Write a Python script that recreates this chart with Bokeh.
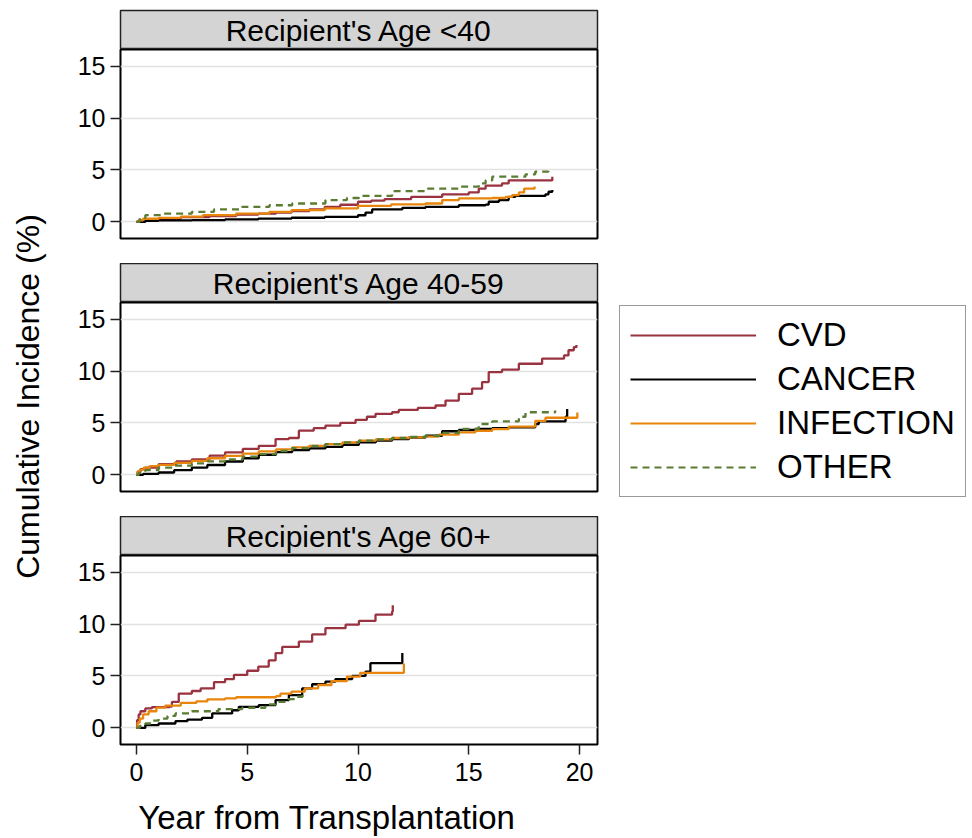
import math
from bokeh.plotting import figure
from bokeh.layouts import column, row
from bokeh.models import Range1d, Label, Legend, LegendItem, FixedTicker
from bokeh.embed import file_html
from bokeh.resources import INLINE

FONT = "Liberation Sans"

PANEL_TITLES = ["Recipient's Age <40", "Recipient's Age 40-59", "Recipient's Age 60+"]
CAUSES = ["CVD", "CANCER", "INFECTION", "OTHER"]
COLORS = ["#9A3340", "#000000", "#E8850C", "#5B7D33"]
DASHES = ["solid", "solid", "solid", "7 5"]
Y_TICKS = [0, 5, 10, 15]
X_TICKS = [0, 5, 10, 15, 20]
Y_TITLE = "Cumulative Incidence (%)"
X_TITLE = "Year from Transplantation"

# ---- Recipient's Age <40 ----
LT40_CVD_T = [0, 0.1, 0.3, 1.0, 2.0, 3.3, 4.5, 5.5, 6.3, 7.0, 7.8, 8.5, 9.2, 10.0, 10.6, 11.2, 12.4, 13.8, 15.0, 15.45, 15.76, 16.5, 16.8, 18.77]
LT40_CVD_Y = [0, 0.15, 0.25, 0.3, 0.45, 0.55, 0.7, 0.8, 0.9, 1.03, 1.2, 1.45, 1.65, 1.94, 2.05, 2.2, 2.4, 2.65, 2.84, 3.2, 3.5, 3.7, 4.0, 4.35]
LT40_CAN_T = [0, 0.4, 1.0, 2.5, 4.0, 5.5, 7.0, 8.5, 10.0, 10.34, 10.64, 12.0, 13.05, 14.55, 15.76, 15.9, 16.36, 16.8, 17.1, 18.46, 18.6, 18.77]
LT40_CAN_Y = [0, 0.1, 0.15, 0.16, 0.24, 0.32, 0.4, 0.48, 0.64, 0.9, 1.2, 1.35, 1.45, 1.6, 1.67, 1.94, 2.1, 2.4, 2.5, 2.65, 2.9, 3.06]
LT40_INF_T = [0, 0.1, 0.3, 1.0, 2.0, 3.0, 4.5, 6.0, 7.0, 8.5, 10.0, 11.5, 13.05, 13.8, 14.55, 16.06, 16.66, 16.96, 17.26, 17.5, 17.97]
LT40_INF_Y = [0, 0.15, 0.3, 0.39, 0.5, 0.65, 0.8, 0.97, 1.13, 1.3, 1.55, 1.68, 1.77, 2.1, 2.26, 2.3, 2.4, 2.58, 2.84, 3.2, 3.4]
LT40_OTH_T = [0, 0.15, 0.4, 1.2, 2.5, 3.5, 4.77, 6.0, 7.03, 8.53, 9.5, 10.04, 11.54, 13.05, 14.55, 15.45, 15.76, 16.06, 17.56, 18.0, 18.6]
LT40_OTH_Y = [0, 0.4, 0.65, 0.8, 0.97, 1.2, 1.45, 1.6, 1.77, 2.1, 2.3, 2.5, 2.97, 3.2, 3.4, 3.7, 4.0, 4.35, 4.58, 4.84, 4.9]

# ---- Recipient's Age 40-59 ----
A4059_CVD_T = [0, 0.05, 0.18, 0.4, 1.0, 1.8, 2.5, 3.3, 4.0, 4.8, 5.52, 6.28, 6.88, 7.33, 8.0, 8.53, 9.2, 9.89, 10.4, 10.79, 11.54, 11.84, 12.7, 13.5, 13.95, 14.55, 15.15, 15.6, 15.9, 16.5, 17.26, 18.31, 19.3, 19.5, 19.74, 19.86]
A4059_CVD_Y = [0, 0.3, 0.55, 0.7, 1.03, 1.3, 1.5, 1.85, 2.16, 2.5, 2.8, 3.45, 3.55, 4.26, 4.5, 4.74, 5.0, 5.3, 5.6, 5.87, 6.03, 6.26, 6.45, 6.68, 7.16, 7.8, 8.3, 8.94, 9.9, 10.13, 10.7, 11.2, 11.5, 12.0, 12.3, 12.5]
A4059_CAN_T = [0, 0.3, 1.0, 1.7, 2.5, 3.2, 4.0, 4.8, 5.52, 6.3, 7.03, 7.8, 8.53, 9.3, 10.04, 10.8, 11.54, 12.3, 13.05, 13.8, 14.55, 15.3, 16.06, 16.8, 18.0, 18.16, 19.37, 19.44]
A4059_CAN_Y = [0, 0.1, 0.23, 0.45, 0.7, 0.95, 1.29, 1.6, 1.94, 2.2, 2.39, 2.55, 2.7, 2.9, 3.13, 3.3, 3.45, 3.6, 3.77, 4.2, 4.32, 4.42, 4.5, 4.58, 4.9, 5.16, 5.6, 6.35]
A4059_INF_T = [0, 0.05, 0.15, 0.33, 0.6, 1.0, 1.7, 2.5, 3.2, 4.0, 4.8, 5.52, 6.3, 7.03, 7.8, 8.53, 9.3, 10.04, 10.8, 11.54, 12.3, 13.05, 13.65, 14.55, 15.3, 16.06, 16.8, 18.0, 18.46, 19.9]
A4059_INF_Y = [0, 0.3, 0.5, 0.7, 0.85, 0.97, 1.15, 1.35, 1.6, 1.84, 2.05, 2.26, 2.45, 2.65, 2.8, 2.97, 3.13, 3.29, 3.42, 3.55, 3.62, 3.68, 3.87, 4.1, 4.25, 4.4, 4.65, 5.2, 5.5, 6.0]
A4059_OTH_T = [0, 0.1, 0.4, 1.0, 1.7, 2.5, 3.2, 4.0, 4.8, 5.52, 6.3, 7.03, 7.8, 8.53, 9.3, 10.04, 10.8, 11.54, 12.3, 13.05, 13.8, 14.55, 15.45, 16.06, 17.26, 17.56, 18.9]
A4059_OTH_Y = [0, 0.2, 0.45, 0.7, 0.9, 1.1, 1.3, 1.5, 1.75, 2.0, 2.3, 2.58, 2.78, 2.97, 3.13, 3.29, 3.42, 3.55, 3.66, 3.77, 4.05, 4.42, 4.9, 5.16, 5.6, 6.03, 6.2]

# ---- Recipient's Age 60+ ----
A60_CVD_T = [0, 0.03, 0.1, 0.18, 0.4, 0.7, 1.5, 1.6, 1.91, 2.5, 2.9, 3.5, 4.0, 4.4, 5.0, 5.5, 5.97, 6.28, 6.58, 7.33, 7.93, 8.53, 9.44, 10.04, 10.79, 11.54, 11.57]
A60_CVD_Y = [0, 0.75, 1.3, 1.6, 1.87, 2.0, 2.05, 2.5, 3.3, 3.55, 3.8, 4.4, 4.7, 5.1, 5.5, 5.9, 6.5, 7.2, 7.8, 8.3, 9.0, 9.6, 9.94, 10.3, 10.9, 11.2, 11.8]
A60_CAN_T = [0, 0.4, 1.0, 1.76, 2.3, 2.96, 3.42, 4.32, 4.62, 5.52, 6.28, 6.88, 7.48, 7.93, 8.53, 8.98, 9.74, 10.34, 10.56, 12.0]
A60_CAN_Y = [0, 0.26, 0.42, 0.65, 0.8, 0.97, 1.39, 1.7, 2.03, 2.2, 2.68, 3.16, 3.8, 4.2, 4.45, 4.7, 5.0, 5.42, 6.23, 7.2]
A60_INF_T = [0, 0.05, 0.15, 0.3, 0.55, 0.9, 1.3, 2.0, 2.7, 3.2, 4.0, 4.5, 6.3, 6.5, 7.0, 7.6, 8.2, 8.8, 9.5, 10.1, 12.07]
A60_INF_Y = [0, 0.5, 0.9, 1.3, 1.6, 1.95, 2.15, 2.4, 2.55, 2.75, 2.85, 2.95, 3.05, 3.3, 3.5, 3.8, 4.13, 4.5, 4.94, 5.3, 6.2]
A60_OTH_T = [0, 0.15, 0.4, 0.7, 1.0, 1.4, 1.76, 2.5, 3.7, 4.77, 5.82, 6.28, 6.73, 7.18, 7.5, 7.55]
A60_OTH_Y = [0, 0.2, 0.42, 0.7, 0.9, 1.15, 1.39, 1.6, 1.8, 1.94, 2.26, 2.5, 2.77, 3.0, 3.2, 3.48]

PANEL_DATA = [
    [(LT40_CVD_T, LT40_CVD_Y), (LT40_CAN_T, LT40_CAN_Y), (LT40_INF_T, LT40_INF_Y), (LT40_OTH_T, LT40_OTH_Y)],
    [(A4059_CVD_T, A4059_CVD_Y), (A4059_CAN_T, A4059_CAN_Y), (A4059_INF_T, A4059_INF_Y), (A4059_OTH_T, A4059_OTH_Y)],
    [(A60_CVD_T, A60_CVD_Y), (A60_CAN_T, A60_CAN_Y), (A60_INF_T, A60_INF_Y), (A60_OTH_T, A60_OTH_Y)],
]

TOTAL_H = 838
YLAB_W = 50
FRAME_W = 477
FRAME_H = 189
HEAD_H = 39
LEFT = 70
RIGHT = 3
COL_W = LEFT + FRAME_W + RIGHT
FOOT_H = 44
LEG_W = 972 - YLAB_W - COL_W
LINE_W = 2.3


def blank(width, height):
    f = figure(width=width, height=height, x_range=Range1d(0, width), y_range=Range1d(0, height),
               x_axis_type=None, y_axis_type=None, toolbar_location=None, output_backend="svg",
               min_border=0)
    f.outline_line_color = None
    f.grid.visible = False
    f.border_fill_color = "white"
    f.background_fill_color = "white"
    return f


def header(text, top):
    h = figure(frame_width=FRAME_W, frame_height=HEAD_H, min_border_left=LEFT, min_border_right=RIGHT,
               min_border_top=top, min_border_bottom=0, x_range=Range1d(0, 1), y_range=Range1d(0, 1),
               x_axis_type=None, y_axis_type=None, toolbar_location=None, output_backend="svg")
    h.grid.visible = False
    h.background_fill_color = "#D4D4D4"
    h.border_fill_color = "white"
    h.outline_line_color = "#222222"
    h.outline_line_width = 1.5
    h.add_layout(Label(x=0.5, y=0.5, text=text, text_align="center", text_baseline="middle",
                       text_font_size="30px", text_font=FONT, text_color="black"))
    return h


def panel(idx, bottom):
    is_last = idx == 2
    p = figure(frame_width=FRAME_W, frame_height=FRAME_H, min_border_left=LEFT, min_border_right=RIGHT,
               min_border_top=0, min_border_bottom=bottom,
               x_range=Range1d(-0.72, 20.81), y_range=Range1d(-1.6, 16.6),
               x_axis_type="linear" if is_last else None,
               toolbar_location=None, output_backend="svg")
    p.background_fill_color = "white"
    p.border_fill_color = "white"
    p.outline_line_color = "black"
    p.outline_line_width = 2
    p.xgrid.visible = False
    p.ygrid.ticker = FixedTicker(ticks=Y_TICKS)
    p.ygrid.grid_line_color = "#E2E2E2"
    p.ygrid.grid_line_width = 1.5
    axes = [p.yaxis[0]] + ([p.xaxis[0]] if is_last else [])
    for ax in axes:
        ax.axis_line_color = None
        ax.major_tick_out = 10
        ax.major_tick_in = 0
        ax.minor_tick_out = 0
        ax.minor_tick_in = 0
        ax.major_tick_line_width = 1.5
        ax.major_tick_line_color = "#222222"
        ax.major_label_text_font_size = "25px"
        ax.major_label_text_font = FONT
        ax.major_label_text_color = "black"
    p.yaxis[0].ticker = FixedTicker(ticks=Y_TICKS)
    p.yaxis[0].major_label_standoff = 5
    if is_last:
        p.xaxis[0].ticker = FixedTicker(ticks=X_TICKS)
        p.xaxis[0].major_label_standoff = 8
    for (t, y), c, d in zip(PANEL_DATA[idx], COLORS, DASHES):
        p.step(x=t, y=y, mode="after", line_color=c, line_width=LINE_W, line_dash=d)
    return p


# y-axis title strip
ylab = blank(YLAB_W, TOTAL_H)
ylab.add_layout(Label(x=27, y=TOTAL_H - 396, text=Y_TITLE, angle=math.pi / 2,
                      text_align="center", text_baseline="middle",
                      text_font_size="32px", text_font=FONT, text_color="black"))

h1 = header(PANEL_TITLES[0], 10)
p1 = panel(0, 25)
h2 = header(PANEL_TITLES[1], 0)
p2 = panel(1, 25)
h3 = header(PANEL_TITLES[2], 0)
p3 = panel(2, 50)

foot = blank(COL_W, FOOT_H)
foot.add_layout(Label(x=238, y=21, text=X_TITLE, text_align="center", text_baseline="middle",
                      text_font_size="33px", text_font=FONT, text_color="black"))

mid = column(h1, p1, h2, p2, h3, p3, foot, spacing=0)

lf = blank(LEG_W, TOTAL_H)
items = []
for name, c, d in zip(CAUSES, COLORS, DASHES):
    r = lf.line(x=[LEG_W + 10, LEG_W + 20], y=[-20, -10], line_color=c, line_width=2, line_dash=d)
    items.append(LegendItem(label=name, renderers=[r]))
legend = Legend(items=items, location=(19, 341), orientation="vertical",
                label_text_font_size="33px", label_text_font=FONT, label_text_color="black",
                glyph_width=126, glyph_height=34, label_height=34, label_standoff=21,
                spacing=6, padding=10, margin=0,
                border_line_color="#333333", border_line_width=1.5,
                background_fill_color="white", background_fill_alpha=1.0)
lf.add_layout(legend)

layout = row(ylab, mid, lf, spacing=0)

html = file_html(layout, INLINE)
open("out.html", "w").write(html)
